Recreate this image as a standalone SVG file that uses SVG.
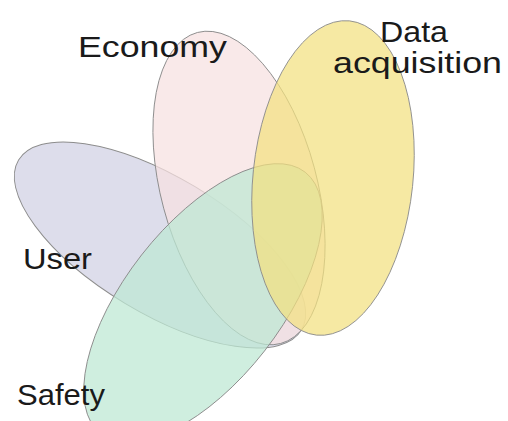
<svg xmlns="http://www.w3.org/2000/svg" width="508" height="421" viewBox="0 0 508 421">
<style>
.set{stroke:#8c8c8c;stroke-width:0.9;fill-opacity:0.72}
.lbl{font-family:"Liberation Sans","DejaVu Sans",sans-serif;font-size:30px;fill:#1a1a1a}
</style>
<rect width="508" height="421" fill="#ffffff"/>
<g id="user"><ellipse class="set" cx="160" cy="245" rx="165" ry="68" transform="rotate(31 160 245)" fill="#d0d0e3"/></g>
<g id="economy"><ellipse class="set" cx="239" cy="188" rx="78" ry="161" transform="rotate(-15 239 188)" fill="#f7e0e0"/></g>
<g id="safety"><ellipse class="set" cx="203" cy="303" rx="166" ry="78" transform="rotate(-52 203 303)" fill="#bde8d2"/></g>
<g id="data"><ellipse class="set" cx="333" cy="178" rx="80" ry="158" transform="rotate(6 333 178)" fill="#f3e180"/></g>
<g id="labels">
<text class="lbl" x="78" y="57" textLength="149" lengthAdjust="spacingAndGlyphs">Economy</text>
<text class="lbl" x="380" y="42" textLength="68" lengthAdjust="spacingAndGlyphs">Data</text>
<text class="lbl" x="333" y="73" textLength="169" lengthAdjust="spacingAndGlyphs">acquisition</text>
<text class="lbl" x="23" y="269" textLength="69" lengthAdjust="spacingAndGlyphs">User</text>
<text class="lbl" x="17" y="405" textLength="88" lengthAdjust="spacingAndGlyphs">Safety</text>
</g>
<g id="connectors"></g>
</svg>
